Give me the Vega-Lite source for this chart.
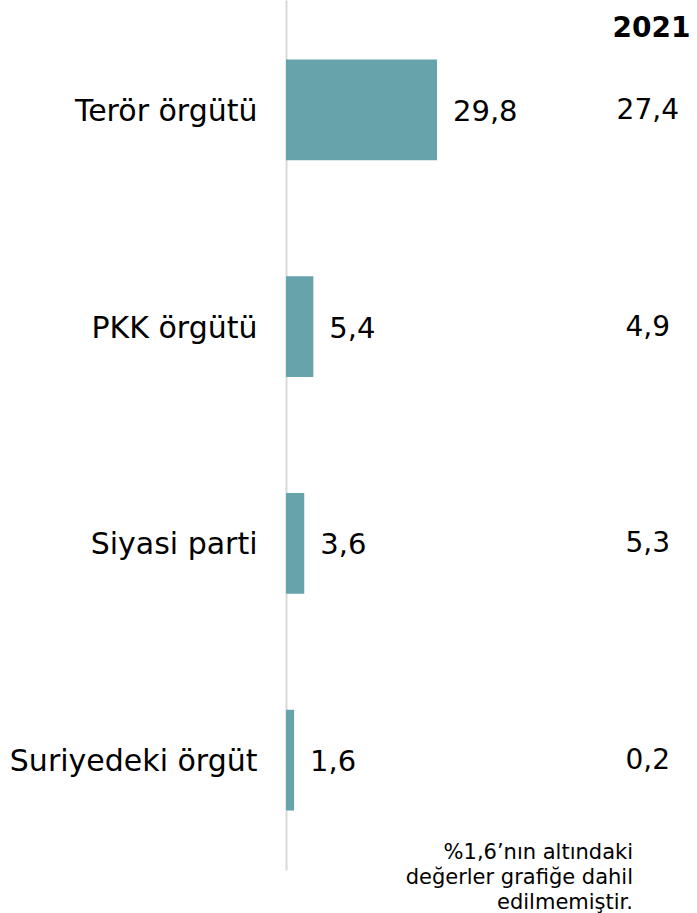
{
  "$schema": "https://vega.github.io/schema/vega-lite/v6.json",
  "autosize": "none",
  "padding": {"left": 286, "top": 0, "right": 7, "bottom": 43},
  "width": 404,
  "height": 870,
  "background": "white",
  "title": {
    "text": ["%1,6’nın altındaki", "değerler grafiğe dahil", "edilmemiştir."],
    "orient": "bottom",
    "anchor": "end",
    "frame": "group",
    "align": "right",
    "baseline": "top",
    "offset": -28,
    "dx": -57,
    "font": "DejaVu Sans",
    "fontSize": 21,
    "fontWeight": "normal",
    "lineHeight": 25,
    "color": "#000000"
  },
  "data": {
    "values": [
      {"kategori": "Terör örgütü", "deger": 29.8, "y2021": 27.4},
      {"kategori": "PKK örgütü", "deger": 5.4, "y2021": 4.9},
      {"kategori": "Siyasi parti", "deger": 3.6, "y2021": 5.3},
      {"kategori": "Suriyedeki örgüt", "deger": 1.6, "y2021": 0.2}
    ]
  },
  "encoding": {
    "y": {
      "field": "kategori",
      "type": "nominal",
      "sort": null,
      "scale": {"paddingInner": 0.535, "paddingOuter": 0.275},
      "axis": {
        "title": null,
        "ticks": false,
        "labelFont": "DejaVu Sans",
        "labelFontSize": 30,
        "labelColor": "#000000",
        "labelPadding": 29,
        "labelLimit": 0,
        "labelOffset": 2,
        "domainColor": "#d9d9d9",
        "domainWidth": 2,
        "grid": false
      }
    }
  },
  "layer": [
    {
      "mark": {"type": "bar", "color": "#67a3ab"},
      "encoding": {
        "x": {
          "field": "deger",
          "type": "quantitative",
          "scale": {"domain": [0, 79.73], "nice": false, "zero": true},
          "axis": {
            "orient": "top",
            "title": "2021",
            "titleFont": "DejaVu Sans",
            "titleFontSize": 28,
            "titleFontWeight": "bold",
            "titleColor": "#000000",
            "titleAnchor": "end",
            "titleAlign": "right",
            "titleBaseline": "alphabetic",
            "titleY": 36,
            "labels": false,
            "ticks": false,
            "domain": false,
            "grid": false
          }
        }
      }
    },
    {
      "mark": {"type": "text", "align": "left", "baseline": "middle", "dx": 16, "dy": 2, "font": "DejaVu Sans", "fontSize": 29, "color": "#000000"},
      "encoding": {
        "x": {"field": "deger", "type": "quantitative"},
        "text": {"field": "deger", "type": "quantitative", "format": ".1f"}
      }
    },
    {
      "mark": {"type": "text", "align": "center", "baseline": "middle", "dy": 1, "font": "DejaVu Sans", "fontSize": 28, "color": "#000000"},
      "encoding": {
        "x": {"datum": 71.4, "type": "quantitative"},
        "text": {"field": "y2021", "type": "quantitative", "format": ".1f"}
      }
    }
  ],
  "config": {
    "view": {"stroke": null},
    "locale": {"number": {"decimal": ",", "thousands": ".", "grouping": [3], "currency": ["", " TL"]}}
  }
}
